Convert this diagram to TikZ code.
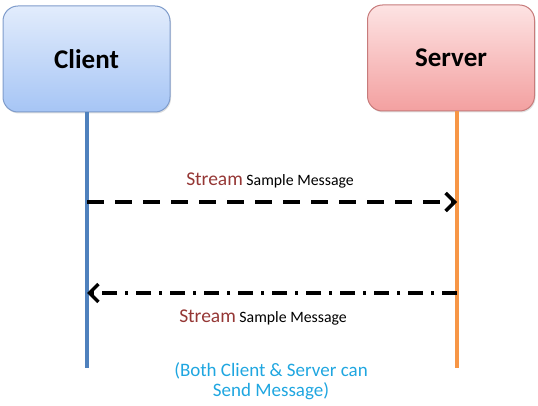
\documentclass[tikz,border=0pt]{standalone}
\usepackage{fontspec}
\setmainfont{Carlito}
\usetikzlibrary{arrows.meta,shadows}
\definecolor{cliTop}{HTML}{E2ECFC}
\definecolor{cliBot}{HTML}{A6C5F5}
\definecolor{cliBorder}{HTML}{7F9CCB}
\definecolor{srvTop}{HTML}{FDE3E3}
\definecolor{srvBot}{HTML}{F3A0A0}
\definecolor{srvBorder}{HTML}{C77B7B}
\definecolor{cliLine}{HTML}{4F81BD}
\definecolor{srvLine}{HTML}{F79646}
\definecolor{streamRed}{HTML}{953735}
\definecolor{noteBlue}{HTML}{1FA6E0}
\tikzset{
  actor/.style={draw, line width=1pt, rounded corners=15pt, minimum width=167pt, minimum height=106pt,
    font=\fontsize{27}{32}\selectfont\bfseries, drop shadow={shadow xshift=1pt, shadow yshift=-1.5pt, opacity=0.25}},
  lifeline/.style={line width=3.5pt},
  msg/.style={line width=3.5pt, black, -{Straight Barb[length=9pt,width=18pt,line width=3.5pt]}},
  lbl/.style={font=\fontsize{15.8}{19}\selectfont},
}
\newcommand{\strm}{{\color{streamRed}\fontsize{19.5}{23}\selectfont Stream}}
\begin{document}
\begin{tikzpicture}[x=1pt,y=-1pt]
\useasboundingbox (0,0) rectangle (538,406);
\node[actor, top color=cliTop, bottom color=cliBot, draw=cliBorder] (client) at (86.5,59) {Client};
\node[actor, top color=srvTop, bottom color=srvBot, draw=srvBorder] (server) at (451,58) {Server};
\coordinate (cEnd) at (87,368);
\coordinate (sEnd) at (457,368);
\draw[lifeline, cliLine] (client.south -| cEnd) -- (cEnd);
\draw[lifeline, srvLine] (server.south -| sEnd) -- (sEnd);
\coordinate (a1s) at (87,202);
\coordinate (a1e) at (457,202);
\coordinate (a2s) at (457,293);
\coordinate (a2e) at (87,293);
\draw[msg, dash pattern=on 17pt off 11pt] (a1s) -- (a1e);
\draw[msg, dash pattern=on 15pt off 8pt on 3pt off 8pt] (a2s) -- (a2e);
\node[lbl] (l1) at (270,181) {\strm{} Sample Message};
\node[lbl] (l2) at (263,318) {\strm{} Sample Message};
\node[font=\fontsize{19}{20}\selectfont, text=noteBlue, align=center] (note) at (271,381) {(Both Client \& Server can\\Send Message)};
\end{tikzpicture}
\end{document}
